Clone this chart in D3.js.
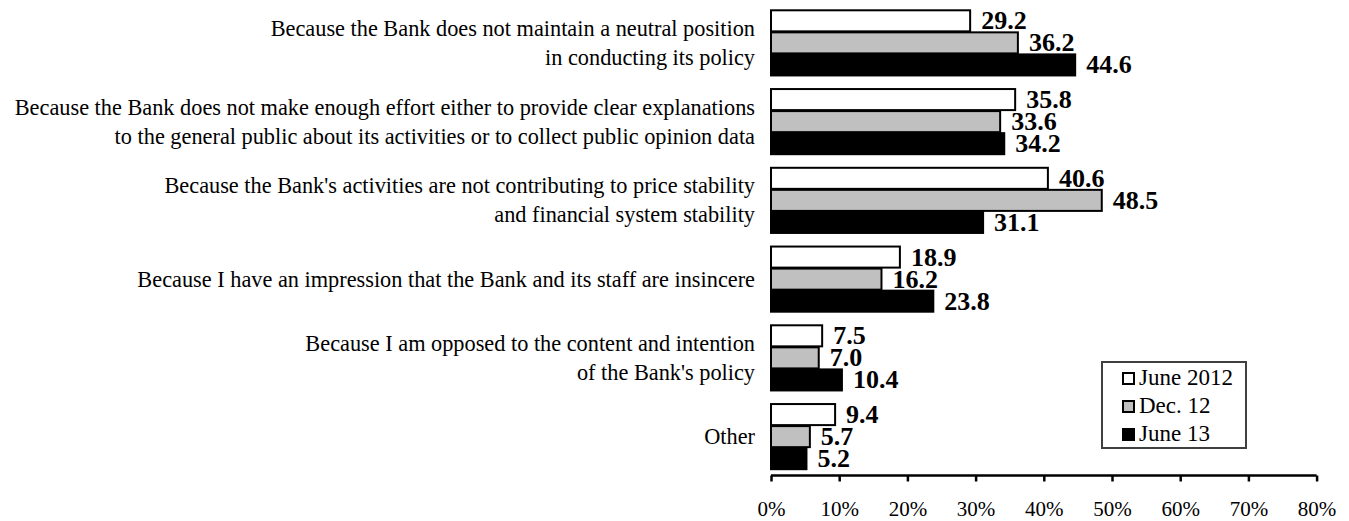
<!DOCTYPE html>
<html>
<head>
<meta charset="utf-8">
<script src="https://cdn.jsdelivr.net/npm/d3@7"></script>
<style>
  html, body { margin: 0; padding: 0; background: #fff; }
  svg { display: block; }
  text { font-family: "Liberation Serif", "Times New Roman", serif; fill: #000; }
</style>
</head>
<body>
<svg id="chart" width="1349" height="521"></svg>
<script>
// Reasons given, one entry per row (lines split where the label wraps)
const categories = [
  ["Because the Bank does not maintain a neutral position", "in conducting its policy"],
  ["Because the Bank does not make enough effort either to provide clear explanations", "to the general public about its activities or to collect public opinion data"],
  ["Because the Bank's activities are not contributing to price stability", "and financial system stability"],
  ["Because I have an impression that the Bank and its staff are insincere"],
  ["Because I am opposed to the content and intention", "of the Bank's policy"],
  ["Other"]
];
const seriesNames = ["June 2012", "Dec. 12", "June 13"];
const june2012 = [29.2, 35.8, 40.6, 18.9, 7.5, 9.4];
const dec12    = [36.2, 33.6, 48.5, 16.2, 7.0, 5.7];
const june13   = [44.6, 34.2, 31.1, 23.8, 10.4, 5.2];
const tickValues = [0, 10, 20, 30, 40, 50, 60, 70, 80];

const series = [june2012, dec12, june13];
const fills = ["#ffffff", "#c0c0c0", "#000000"];
const squeeze = 0.93;   // condensed serif look of the category labels

const svg = d3.select("#chart");

const plotLeft = 771, plotRight = 1316.6, plotTop = 3, plotBottom = 475.5;

const x = d3.scaleLinear().domain([0, 80]).range([plotLeft, plotRight]);

const rowIds = categories.map((c, i) => i);
const y = d3.scaleBand().domain(rowIds).range([plotTop, plotBottom])
  .paddingInner(0.16).paddingOuter(0.08);
const ySeries = d3.scaleBand().domain(d3.range(series.length))
  .range([0, y.bandwidth()]);

// bars
const rows = svg.append("g").selectAll("g").data(rowIds).join("g")
  .attr("transform", i => `translate(0,${y(i)})`);

series.forEach((vals, s) => {
  rows.append("rect")
    .attr("x", x(0))
    .attr("y", ySeries(s) + 1)
    .attr("width", i => x(vals[i]) - x(0))
    .attr("height", ySeries.bandwidth() - 1)
    .attr("fill", fills[s])
    .attr("stroke", "#000")
    .attr("stroke-width", 2);
});

// value labels
series.forEach((vals, s) => {
  rows.append("text")
    .attr("x", i => x(vals[i]) + 11)
    .attr("y", ySeries(s) + ySeries.bandwidth() - 2)
    .attr("font-size", 26)
    .attr("font-weight", "bold")
    .text(i => vals[i].toFixed(1));
});

// category labels, right aligned against the plot
const lineGap = 29;
rows.each(function(i) {
  const lines = categories[i];
  const cy = y.bandwidth() / 2;
  const first = cy - (lines.length - 1) * lineGap / 2 + 8;
  lines.forEach((ln, k) => {
    d3.select(this).append("text")
      .attr("transform", `translate(755,${first + k * lineGap}) scale(${squeeze},1)`)
      .attr("text-anchor", "end")
      .attr("font-size", 24)
      .text(ln);
  });
});

// x axis
const axis = svg.append("g").attr("transform", `translate(0,${plotBottom})`)
  .call(d3.axisBottom(x).tickValues(tickValues)
    .tickFormat(d => d + "%").tickSize(6).tickSizeOuter(0));
axis.select(".domain").attr("stroke", "#000").attr("stroke-width", 2.5)
  .attr("d", `M${plotLeft},0H${plotRight}`);
axis.selectAll(".tick line").attr("stroke", "#000").attr("stroke-width", 2.5);
axis.selectAll(".tick text")
  .attr("font-family", "Liberation Serif, Times New Roman, serif")
  .attr("font-size", 21).attr("fill", "#000")
  .attr("y", 40).attr("dy", 0);

// legend
const lg = svg.append("g").attr("transform", "translate(1102,362)");
lg.append("rect").attr("width", 144).attr("height", 86)
  .attr("fill", "#fff").attr("stroke", "#404040").attr("stroke-width", 2);
seriesNames.forEach((name, s) => {
  const yy = 23 + s * 28;
  lg.append("rect").attr("x", 21).attr("y", yy - 12).attr("width", 11).attr("height", 11)
    .attr("fill", fills[s]).attr("stroke", "#000").attr("stroke-width", 2);
  lg.append("text").attr("x", 37).attr("y", yy)
    .attr("font-size", 23).text(name);
});
</script>
</body>
</html>
